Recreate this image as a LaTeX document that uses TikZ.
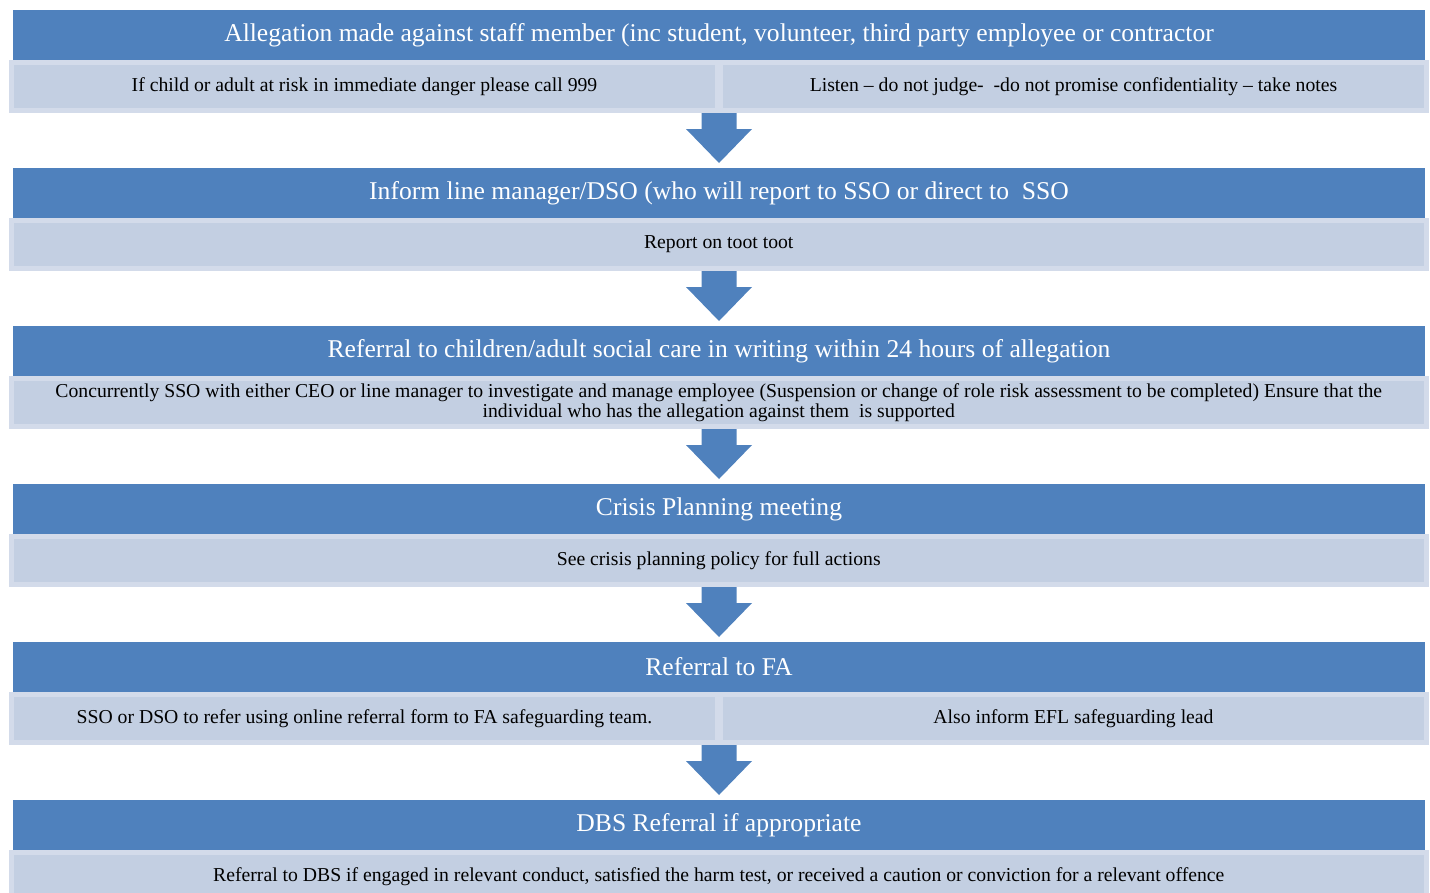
\documentclass[tikz,border=0pt]{standalone}
\usepackage{fontspec}
\setmainfont{Liberation Serif}
\usetikzlibrary{calc}
\definecolor{bandblue}{RGB}{79,129,189}
\definecolor{paleblue}{RGB}{195,207,226}
\definecolor{paleedge}{RGB}{211,219,234}

\begin{document}
\begin{tikzpicture}[x=1pt, y=-1pt, line join=miter,
	band/.style={fill=bandblue, text=white, minimum width=1412pt, minimum height=50pt,
		inner sep=0pt, font=\fontsize{25.6}{30}\selectfont},
	note/.style={fill=paleblue, draw=paleedge, line width=5pt, minimum height=48pt,
		inner sep=0pt, align=center, font=\fontsize{19.7}{20.5}\selectfont},
	wide/.style={note, minimum width=1415.5pt},
	half/.style={note, minimum width=706pt},
	flowarrow/.pic={
		\fill[bandblue] (-17.5,0) -- (17.5,0) -- (17.5,16) -- (33,16) -- (0,50)
		-- (-33,16) -- (-17.5,16) -- cycle;}]
	
	\useasboundingbox (0,0) rectangle (1430,892);
	
	%========================
	% Allegation
	%========================
	\node[band] (t1) at (719,35) {Allegation made against staff member (inc student, volunteer, third party employee or contractor};
	\node[half] (n1a) at (364.5,86.5) {If child or adult at risk in immediate danger please call 999};
	\node[half] (n1b) at (1073.5,86.5) {Listen -- do not judge-\ \ -do not promise confidentiality -- take notes};
	
	%========================
	% Inform line manager
	%========================
	\node[band] (t2) at (719,193) {Inform line manager/DSO (who will report to SSO or direct to\ \ SSO};
	\node[wide] (n2) at (718.75,244.5) {Report on toot toot};
	
	%========================
	% Referral to social care
	%========================
	\node[band] (t3) at (719,351) {Referral to children/adult social care in writing within 24 hours of allegation};
	\node[wide] (n3) at (718.75,402.5)
	{Concurrently SSO with either CEO or line manager to investigate and manage employee (Suspension or change of role risk assessment to be completed) Ensure that the\\
		individual who has the allegation against them\ \ is supported};
	
	%========================
	% Crisis planning
	%========================
	\node[band] (t4) at (719,509) {Crisis Planning meeting};
	\node[wide] (n4) at (718.75,560.5) {See crisis planning policy for full actions};
	
	%========================
	% Referral to FA
	%========================
	\node[band] (t5) at (719,667) {Referral to FA};
	\node[half] (n5a) at (364.5,718.5) {SSO or DSO to refer using online referral form to FA safeguarding team.};
	\node[half] (n5b) at (1073.5,718.5) {Also inform EFL safeguarding lead};
	
	%========================
	% DBS referral
	%========================
	\node[band] (t6) at (719,825) {DBS Referral if appropriate};
	\node[wide] (n6) at (718.75,876.5) {Referral to DBS if engaged in relevant conduct, satisfied the harm test, or received a caution or conviction for a relevant offence};
	
	% block arrows between the stages
	\foreach \a/\b in {n1a/t2, n2/t2, n3/t3, n4/t4, n5a/t5}
	\path (\a.south -| \b.south) pic {flowarrow};
	
\end{tikzpicture}
\end{document}
